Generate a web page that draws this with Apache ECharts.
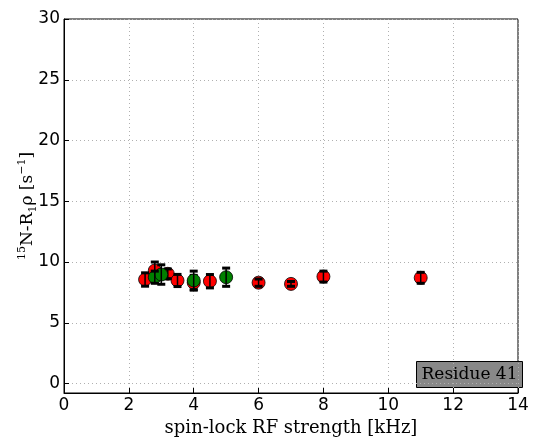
<!DOCTYPE html>
<html><head><meta charset="utf-8">
<script src="https://cdn.jsdelivr.net/npm/echarts@6/dist/echarts.min.js"></script>
<style>html,body{margin:0;padding:0;background:#fff}#c{width:534px;height:443px}</style>
</head><body><div id="c"></div>
<script>
// red series: [x (kHz), R1rho, error]
const redX = [2.5, 2.8, 3.2, 3.5, 4.0, 4.5, 6.0, 7.0, 8.0, 11.0];
const redY = [8.56, 9.3, 9.03, 8.48, 8.3, 8.42, 8.3, 8.2, 8.8, 8.7];
const redE = [0.55, 0.7, 0.4, 0.5, 0.6, 0.55, 0.3, 0.2, 0.45, 0.45];
const greenX = [2.8, 3.0, 4.0, 5.0];
const greenY = [8.75, 8.97, 8.48, 8.75];
const greenE = [0.5, 0.8, 0.77, 0.75];
const xTicks = [0, 2, 4, 6, 8, 10, 12, 14];
const yTicks = [0, 5, 10, 15, 20, 25, 30];

const chart = echarts.init(document.getElementById('c'));
function pts(xs, ys, es) { return xs.map((x, i) => [x, ys[i], es[i]]); }
function errSeries(data, z) {
  return {
    type: 'custom', z: z, silent: true,
    data: data,
    encode: { x: 0, y: 1 },
    renderItem: function (params, api) {
      const x = api.value(0), y = api.value(1), e = api.value(2);
      const top = api.coord([x, y + e]);
      const bot = api.coord([x, y - e]);
      const cw = 4;
      return {
        type: 'group',
        children: [
          { type: 'line', shape: { x1: top[0], y1: top[1], x2: bot[0], y2: bot[1] }, style: { stroke: '#000', lineWidth: 1.5 } },
          { type: 'line', shape: { x1: top[0] - cw, y1: top[1], x2: top[0] + cw, y2: top[1] }, style: { stroke: '#000', lineWidth: 3 } },
          { type: 'line', shape: { x1: bot[0] - cw, y1: bot[1], x2: bot[0] + cw, y2: bot[1] }, style: { stroke: '#000', lineWidth: 3 } }
        ]
      };
    }
  };
}
const redData = pts(redX, redY, redE);
const greenData = pts(greenX, greenY, greenE);
const axisFont = { fontFamily: 'DejaVu Sans', fontSize: 17, color: '#000' };
chart.setOption({
  animation: false,
  grid: { left: 64, right: 16, top: 19, bottom: 50, show: true, borderColor: '#000', borderWidth: 1 },
  xAxis: {
    type: 'value', min: 0, max: 14, interval: 2,
    name: 'spin-lock RF strength [kHz]', nameLocation: 'middle', nameGap: 26, nameMoveOverlap: false,
    nameTextStyle: { fontFamily: 'DejaVu Serif', fontSize: 18, color: '#000' },
    axisLine: { show: true, onZero: false, lineStyle: { color: '#000' } },
    axisTick: { show: true, inside: true, length: 5, lineStyle: { color: '#000' } },
    axisLabel: Object.assign({ margin: 4, customValues: xTicks }, axisFont),
    splitLine: { show: true, lineStyle: { color: '#b0b0b0', type: [1, 3] } }
  },
  yAxis: {
    type: 'value', min: -0.78, max: 30,
    name: '{sup|15}N-R{sub|1}ρ [s{sup|−1}]', nameLocation: 'middle', nameGap: 25, nameMoveOverlap: false,
    nameTextStyle: {
      fontFamily: 'DejaVu Serif', fontSize: 17, color: '#000', lineHeight: 22,
      rich: {
        sup: { fontFamily: 'DejaVu Serif', fontSize: 11, verticalAlign: 'top', lineHeight: 22, padding: [0, 0, 8, 0] },
        sub: { fontFamily: 'DejaVu Serif', fontSize: 11, verticalAlign: 'bottom', lineHeight: 22, padding: [6, 0, 0, 0] }
      }
    },
    axisLine: { show: true, onZero: false, lineStyle: { color: '#000' } },
    axisTick: { show: true, inside: true, length: 5, customValues: yTicks, lineStyle: { color: '#000' } },
    axisLabel: Object.assign({ margin: 4, customValues: yTicks }, axisFont),
    splitLine: { show: true, lineStyle: { color: '#b0b0b0', type: [1, 3] } }
  },
  series: [
    { type: 'scatter', data: redData, symbolSize: 13, z: 3,
      itemStyle: { color: '#ff0000', borderColor: '#000', borderWidth: 0.8, opacity: 1 } },
    errSeries(redData, 4),
    { type: 'scatter', data: greenData, symbolSize: 13, z: 5,
      itemStyle: { color: '#008000', borderColor: '#000', borderWidth: 0.8, opacity: 1 } },
    errSeries(greenData, 6)
  ],
  graphic: [{
    type: 'group', right: 11, top: 361, z: 100,
    children: [
      { type: 'rect', shape: { x: 0, y: 0, width: 106, height: 26 }, style: { fill: '#888888', stroke: '#000', lineWidth: 1 } },
      { type: 'text', x: 53, y: 13, style: { text: 'Residue 41', fontFamily: 'DejaVu Serif', fontSize: 17, fill: '#000', align: 'center', verticalAlign: 'middle' } }
    ]
  }]
});
</script></body></html>
